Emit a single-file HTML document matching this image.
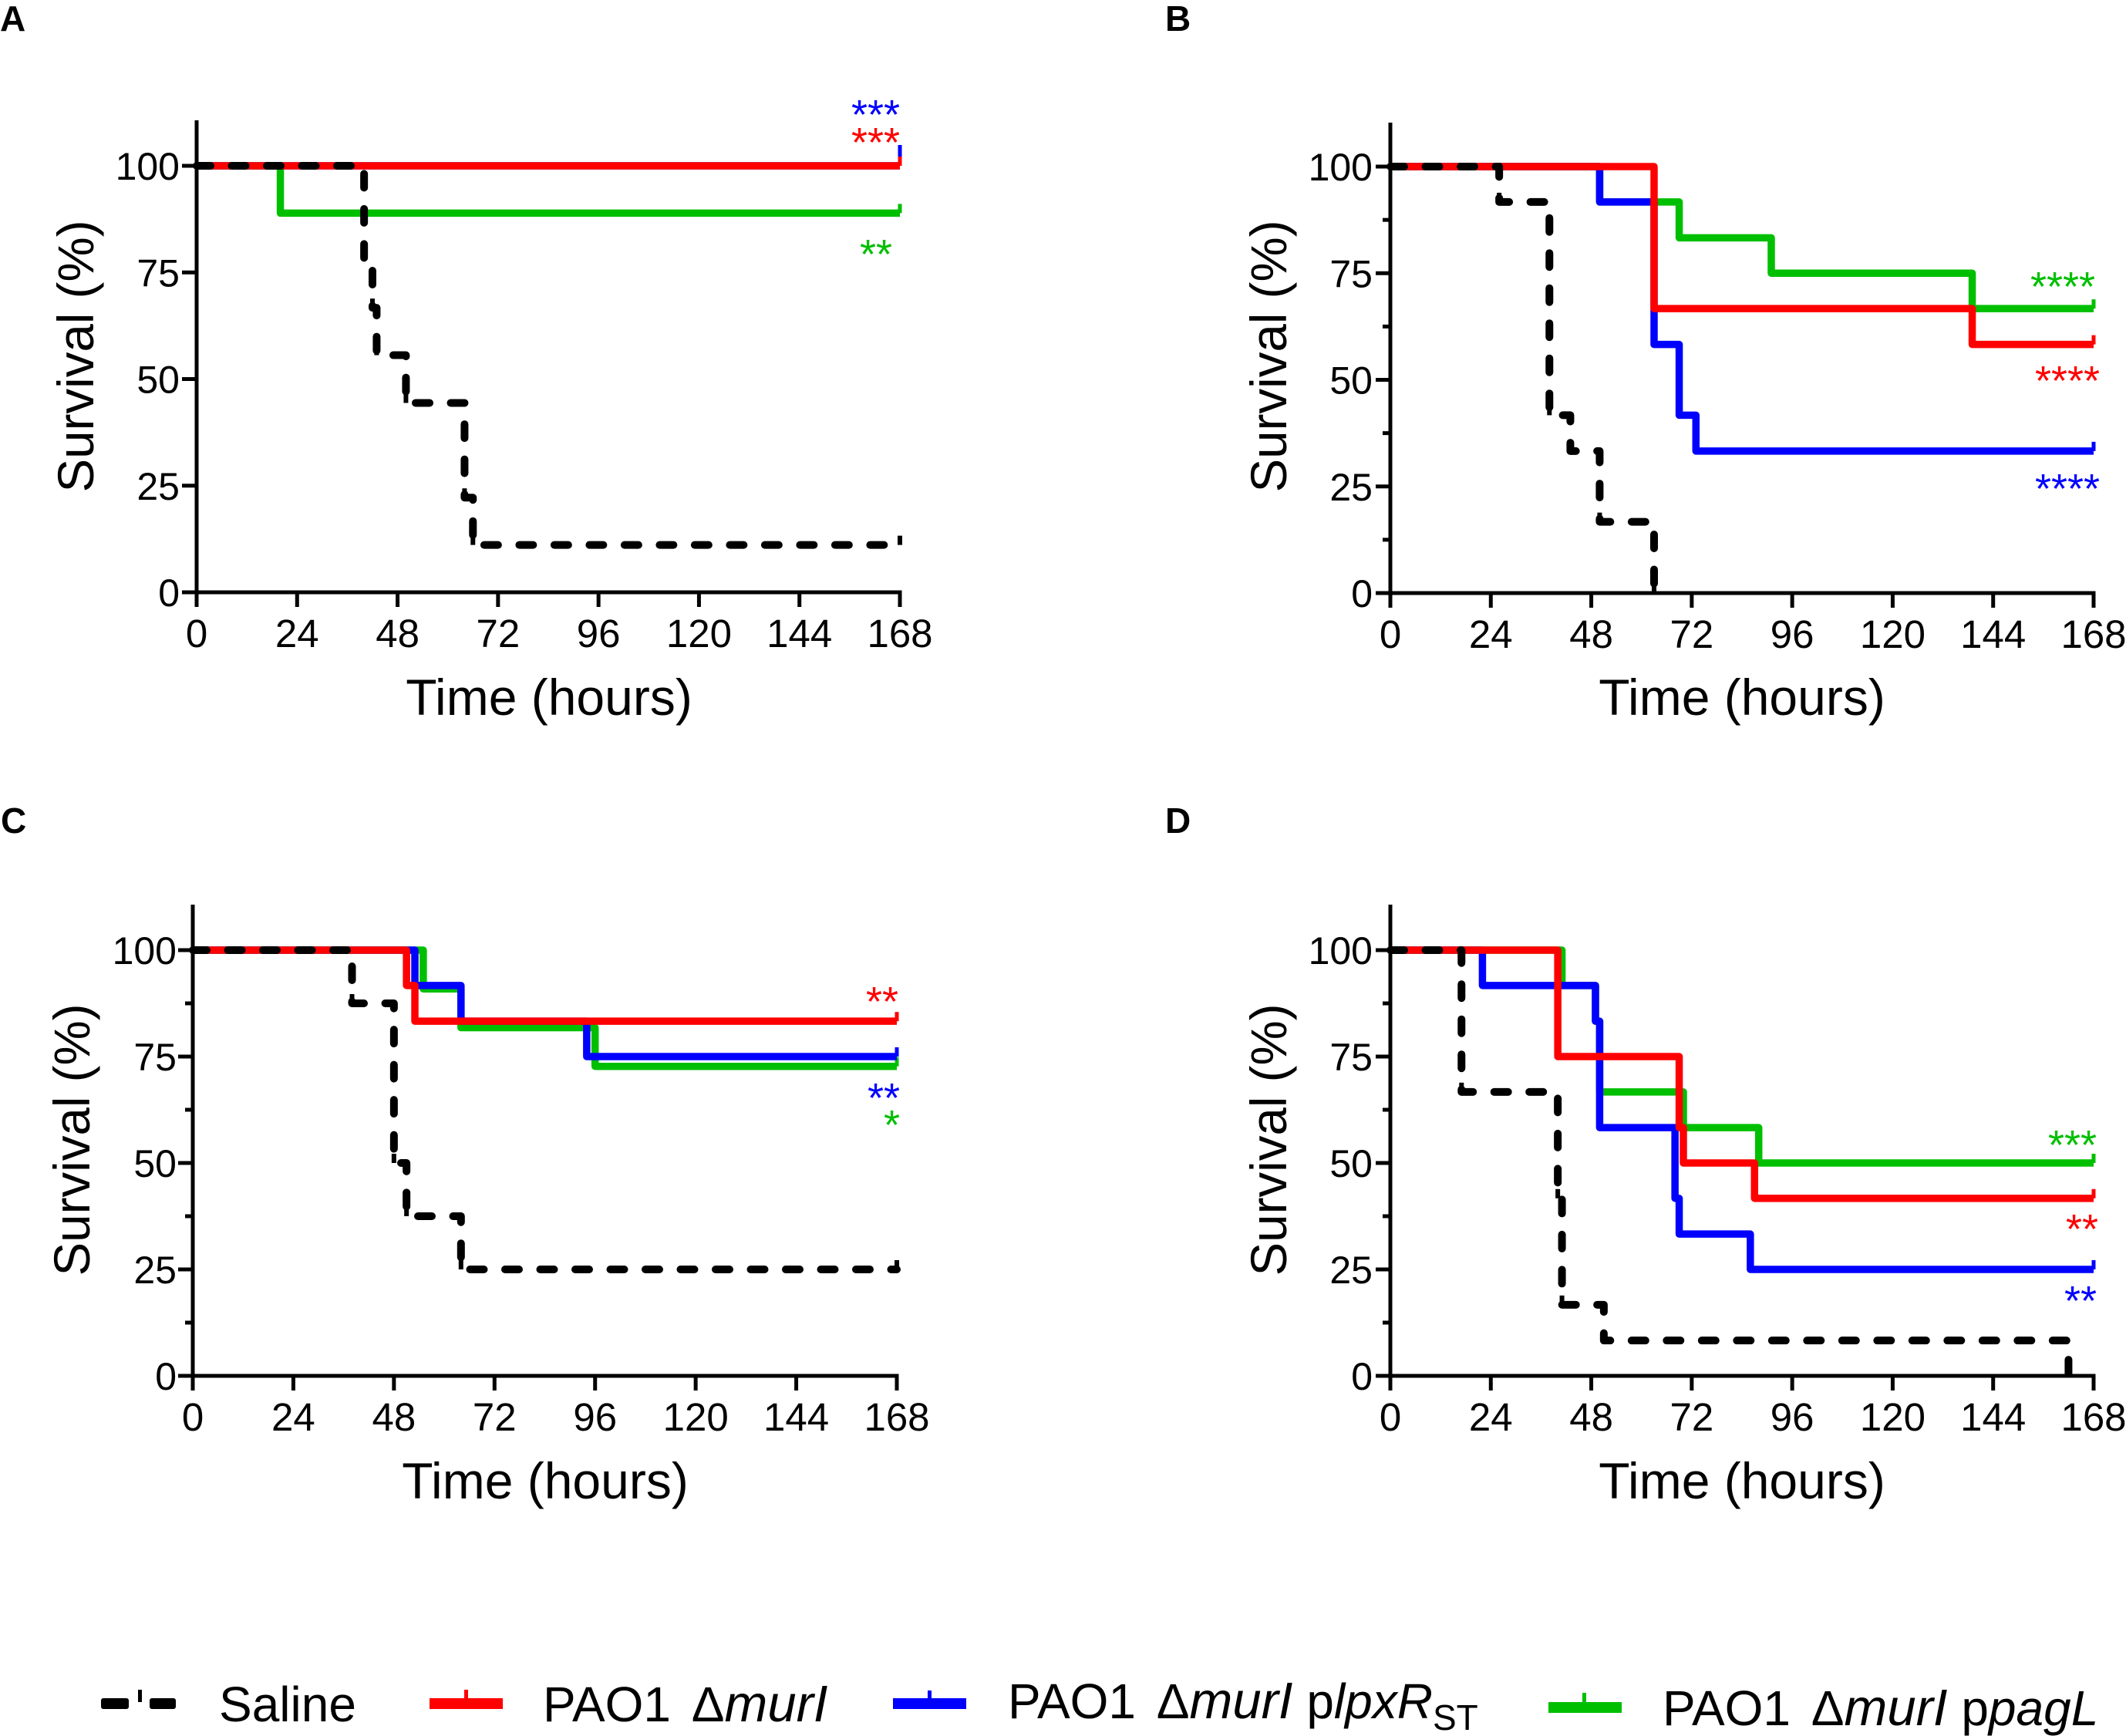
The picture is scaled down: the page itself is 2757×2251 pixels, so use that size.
<!DOCTYPE html>
<html lang="en">
<head>
<meta charset="utf-8">
<title>Survival curves</title>
<style>
html,body{margin:0;padding:0;background:#fff;}
svg{display:block;}
text{font-family:"Liberation Sans",Arial,sans-serif;fill:#000;}
.panel-letter{font-size:46px;font-weight:bold;}
.axis-title{font-size:66px;text-anchor:middle;}
.axis-title.vertical{font-size:65.5px;}
.tick{font-size:51px;}
.tick.y-tick{font-size:50px;}
.star{font-size:54px;text-anchor:end;}
.legend{font-size:64px;}
</style>
</head>
<body>
<svg id="figure" xmlns="http://www.w3.org/2000/svg" width="2757" height="2251" viewBox="0 0 2757 2251">
  <rect x="0" y="0" width="2757" height="2251" fill="#fff"/>

  <text class="panel-letter" x="0" y="40">A</text>
  <text class="panel-letter" x="1511" y="40">B</text>
  <text class="panel-letter" x="1" y="1080">C</text>
  <text class="panel-letter" x="1511" y="1080">D</text>

  <g id="plots"></g>

  <text class="axis-title" x="712" y="927">Time (hours)</text>
  <text class="axis-title" x="2259" y="927">Time (hours)</text>
  <text class="axis-title" x="707" y="1943">Time (hours)</text>
  <text class="axis-title" x="2259" y="1943">Time (hours)</text>

  <text class="axis-title vertical" transform="translate(121,462) rotate(-90)">Survival (%)</text>
  <text class="axis-title vertical" transform="translate(1668,462) rotate(-90)">Survival (%)</text>
  <text class="axis-title vertical" transform="translate(116,1478) rotate(-90)">Survival (%)</text>
  <text class="axis-title vertical" transform="translate(1668,1478) rotate(-90)">Survival (%)</text>

  <text class="star" x="1167" y="167" style="fill:#0000ff">***</text>
  <text class="star" x="1167" y="203" style="fill:#ff0000">***</text>
  <text class="star" x="1157" y="348" style="fill:#00bf00">**</text>

  <text class="star" x="2717" y="390" style="fill:#00bf00">****</text>
  <text class="star" x="2723" y="512" style="fill:#ff0000">****</text>
  <text class="star" x="2723" y="652" style="fill:#0000ff">****</text>

  <text class="star" x="1165" y="1317" style="fill:#ff0000">**</text>
  <text class="star" x="1167" y="1442" style="fill:#0000ff">**</text>
  <text class="star" x="1167" y="1477" style="fill:#00bf00">*</text>

  <text class="star" x="2719" y="1503" style="fill:#00bf00">***</text>
  <text class="star" x="2721" y="1612" style="fill:#ff0000">**</text>
  <text class="star" x="2719" y="1705" style="fill:#0000ff">**</text>

  <g>
    <g>
      <rect x="131" y="2202" width="36" height="14" rx="3" fill="#000"/>
      <rect x="179" y="2191" width="5" height="16" fill="#000"/>
      <rect x="194" y="2202" width="34" height="14" rx="3" fill="#000"/>
      <text class="legend" x="284" y="2232">Saline</text>
    </g>
    <g>
      <rect x="557" y="2202" width="95" height="14" fill="#ff0000"/>
      <rect x="602" y="2191" width="5" height="14" fill="#ff0000"/>
      <text class="legend" x="704" y="2232">PAO1 <tspan dx="9">Δ</tspan><tspan font-style="italic" font-size="67">murI</tspan></text>
    </g>
    <g>
      <rect x="1158" y="2202" width="95" height="14" fill="#0000ff"/>
      <rect x="1203" y="2192" width="5" height="13" fill="#0000ff"/>
      <text class="legend" x="1307" y="2228">PAO1 <tspan dx="9">Δ</tspan><tspan font-style="italic" font-size="67">murI</tspan> p<tspan font-style="italic">lpxR</tspan><tspan font-size="46" dy="15">ST</tspan></text>
    </g>
    <g>
      <rect x="2008" y="2207" width="95" height="14" fill="#00bf00"/>
      <rect x="2052" y="2195" width="5" height="14" fill="#00bf00"/>
      <text class="legend" x="2156" y="2237">PAO1 <tspan dx="9">Δ</tspan><tspan font-style="italic" font-size="67">murI</tspan> p<tspan font-style="italic">pagL</tspan></text>
    </g>
  </g>
</svg>
<script>
const xTickValues = [0, 24, 48, 72, 96, 120, 144, 168];
const yMajorValues = [0, 25, 50, 75, 100];
const yMinorValues = [12.5, 37.5, 62.5, 87.5];

const aSalineTimes = [0, 40, 42, 43, 50, 64, 66, 168];
const aSalineValues = [100, 77.8, 66.7, 55.6, 44.4, 22.2, 11.1, 11.1];
const aRedTimes = [0, 168];
const aRedValues = [100, 100];
const aBlueTimes = [0, 168];
const aBlueValues = [100, 100];
const aGreenTimes = [0, 20, 168];
const aGreenValues = [100, 88.9, 88.9];

const bSalineTimes = [0, 26, 38, 43, 50, 63];
const bSalineValues = [100, 91.7, 41.7, 33.3, 16.7, 0];
const bRedTimes = [0, 63, 139, 168];
const bRedValues = [100, 66.7, 58.3, 58.3];
const bBlueTimes = [0, 50, 63, 69, 73, 168];
const bBlueValues = [100, 91.7, 58.3, 41.7, 33.3, 33.3];
const bGreenTimes = [0, 50, 69, 91, 139, 168];
const bGreenValues = [100, 91.7, 83.3, 75, 66.7, 66.7];

const cSalineTimes = [0, 38, 48, 51, 64, 168];
const cSalineValues = [100, 87.5, 50, 37.5, 25, 25];
const cRedTimes = [0, 51, 53, 168];
const cRedValues = [100, 91.7, 83.3, 83.3];
const cBlueTimes = [0, 53, 64, 94, 168];
const cBlueValues = [100, 91.7, 83.3, 75, 75];
const cGreenTimes = [0, 55, 64, 96, 168];
const cGreenValues = [100, 90.9, 81.8, 72.7, 72.7];

const dSalineTimes = [0, 17, 40, 41, 51, 162];
const dSalineValues = [100, 66.7, 41.7, 16.7, 8.3, 0];
const dRedTimes = [0, 40, 69, 70, 87, 168];
const dRedValues = [100, 75, 58.3, 50, 41.7, 41.7];
const dBlueTimes = [0, 22, 49, 50, 68, 69, 86, 168];
const dBlueValues = [100, 91.7, 83.3, 58.3, 41.7, 33.3, 25, 25];
const dGreenTimes = [0, 41, 49, 50, 70, 88, 168];
const dGreenValues = [100, 91.7, 83.3, 66.7, 58.3, 50, 50];

const SVG_NS = 'http://www.w3.org/2000/svg';
const GREEN = '#00bf00';
const BLUE = '#0000ff';
const RED = '#ff0000';
const BLACK = '#000000';

const panels = [
  { id: 'a', left: 255, right: 1167, top: 156, y100: 215, y0: 768, labelRight: 233, minor: false,
    green: [aGreenTimes, aGreenValues], blue: [aBlueTimes, aBlueValues], red: [aRedTimes, aRedValues], saline: [aSalineTimes, aSalineValues], blueRise: 27 },
  { id: 'b', left: 1803, right: 2715, top: 159, y100: 216, y0: 769, labelRight: 1780, minor: true,
    green: [bGreenTimes, bGreenValues], blue: [bBlueTimes, bBlueValues], red: [bRedTimes, bRedValues], saline: [bSalineTimes, bSalineValues], blueRise: 12 },
  { id: 'c', left: 250, right: 1163, top: 1173, y100: 1232, y0: 1784, labelRight: 229, minor: true,
    green: [cGreenTimes, cGreenValues], blue: [cBlueTimes, cBlueValues], red: [cRedTimes, cRedValues], saline: [cSalineTimes, cSalineValues], blueRise: 12 },
  { id: 'd', left: 1803, right: 2715, top: 1173, y100: 1232, y0: 1784, labelRight: 1780, minor: true,
    green: [dGreenTimes, dGreenValues], blue: [dBlueTimes, dBlueValues], red: [dRedTimes, dRedValues], saline: [dSalineTimes, dSalineValues], blueRise: 12 }
];

function make(tag, parent) {
  const node = document.createElementNS(SVG_NS, tag);
  parent.appendChild(node);
  return node;
}

function stepPath(times, values, xScale, yScale) {
  let d = 'M' + xScale(times[0]) + ' ' + yScale(values[0]);
  for (let i = 1; i < times.length; i++) {
    d += ' H' + xScale(times[i]) + ' V' + yScale(values[i]);
  }
  return d;
}

function drawSeries(group, panel, key, color, width, dashed, rise, xScale, yScale) {
  const times = panel[key][0];
  const values = panel[key][1];
  const line = make('path', group);
  line.setAttribute('d', stepPath(times, values, xScale, yScale));
  line.setAttribute('fill', 'none');
  line.setAttribute('stroke', color);
  line.setAttribute('stroke-width', width);
  line.setAttribute('stroke-linejoin', 'round');
  if (dashed) {
    line.setAttribute('stroke-dasharray', '18 27.5');
    line.setAttribute('stroke-linecap', 'round');
  }
  
  

  // A small censor mark rises from the start of every level of the step curve.
  for (let i = 1; i < times.length; i++) {
    const isLast = i === times.length - 1;
    const censor = make('line', group);
    censor.setAttribute('x1', xScale(times[i]));
    censor.setAttribute('x2', xScale(times[i]));
    censor.setAttribute('y1', yScale(values[i]));
    censor.setAttribute('y2', yScale(values[i]) - (isLast ? rise : 12));
    censor.setAttribute('stroke', color);
    censor.setAttribute('stroke-width', dashed ? 6 : 5);
    
    
  }
}

function drawPanel(panel) {
  const root = document.getElementById('plots');
  const group = make('g', root);
  
  

  const xScale = function (t) { return panel.left + t * (panel.right - panel.left) / 168; };
  const yScale = function (v) { return panel.y0 - v * (panel.y0 - panel.y100) / 100; };

  drawSeries(group, panel, 'green', GREEN, 9.5, false, 12, xScale, yScale);
  drawSeries(group, panel, 'blue', BLUE, 9.5, false, panel.blueRise, xScale, yScale);
  drawSeries(group, panel, 'red', RED, 9.5, false, 12, xScale, yScale);
  drawSeries(group, panel, 'saline', BLACK, 10, true, 12, xScale, yScale);

  const yAxis = make('line', group);
  yAxis.setAttribute('x1', panel.left);
  yAxis.setAttribute('x2', panel.left);
  yAxis.setAttribute('y1', panel.top);
  yAxis.setAttribute('y2', panel.y0 + 2.5);
  yAxis.setAttribute('stroke', BLACK);
  yAxis.setAttribute('stroke-width', 5);
  
  

  const xAxis = make('line', group);
  xAxis.setAttribute('x1', panel.left);
  xAxis.setAttribute('x2', panel.right + 2.5);
  xAxis.setAttribute('y1', panel.y0);
  xAxis.setAttribute('y2', panel.y0);
  xAxis.setAttribute('stroke', BLACK);
  xAxis.setAttribute('stroke-width', 5);
  
  

  xTickValues.forEach(function (t) {
    const tick = make('line', group);
    tick.setAttribute('x1', xScale(t));
    tick.setAttribute('x2', xScale(t));
    tick.setAttribute('y1', panel.y0);
    tick.setAttribute('y2', panel.y0 + 19);
    tick.setAttribute('stroke', BLACK);
    tick.setAttribute('stroke-width', 5);
    
    

    const label = make('text', group);
    label.setAttribute('class', 'tick');
    label.setAttribute('x', xScale(t));
    label.setAttribute('y', panel.y0 + 71);
    label.setAttribute('text-anchor', 'middle');
    label.textContent = String(t);
    
    
  });

  yMajorValues.forEach(function (v) {
    const tick = make('line', group);
    tick.setAttribute('x1', panel.left - 19);
    tick.setAttribute('x2', panel.left);
    tick.setAttribute('y1', yScale(v));
    tick.setAttribute('y2', yScale(v));
    tick.setAttribute('stroke', BLACK);
    tick.setAttribute('stroke-width', 5);
    
    

    const label = make('text', group);
    label.setAttribute('class', 'tick y-tick');
    label.setAttribute('x', panel.labelRight);
    label.setAttribute('y', yScale(v) + 18);
    label.setAttribute('text-anchor', 'end');
    label.textContent = String(v);
    
    
  });

  if (panel.minor) {
    yMinorValues.forEach(function (v) {
      const tick = make('line', group);
      tick.setAttribute('x1', panel.left - 10);
      tick.setAttribute('x2', panel.left);
      tick.setAttribute('y1', yScale(v));
      tick.setAttribute('y2', yScale(v));
      tick.setAttribute('stroke', BLACK);
      tick.setAttribute('stroke-width', 5);
      
      
    });
  }
}

panels.forEach(drawPanel);
</script>
</body>
</html>
